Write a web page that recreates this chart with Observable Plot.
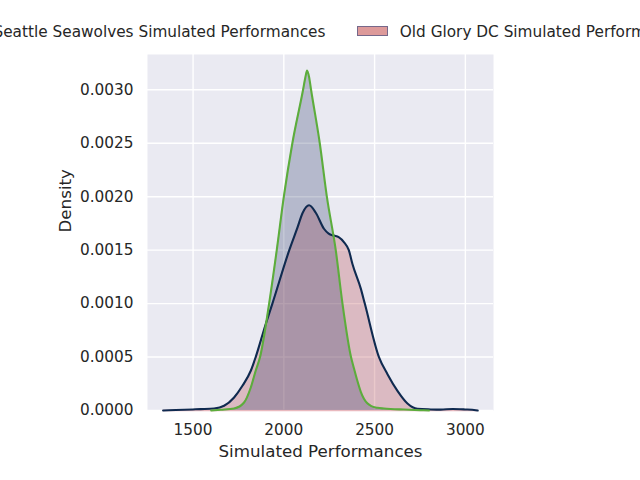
<!DOCTYPE html>
<html>
<head>
<meta charset="utf-8">
<script src="https://cdn.jsdelivr.net/npm/d3@7"></script>
<script src="https://cdn.jsdelivr.net/npm/@observablehq/plot@0.6"></script>
<style>
  body { margin: 0; background: #ffffff; font-family: "DejaVu Sans", sans-serif; }
  #wrap { width: 640px; height: 480px; overflow: hidden; position: relative; }
  #legend { position: relative; width: 640px; height: 48px; overflow: hidden; color: #262626; font-size: 15.3px; }
  #legend .txt { position: absolute; top: 22.5px; white-space: nowrap; line-height: normal; }
  #legend .patch { position: absolute; top: 25.5px; width: 30.6px; height: 10.7px; box-sizing: border-box; }
  #chart svg { display: block; }
</style>
</head>
<body>
<div id="wrap">
  <div id="legend">
    <div class="patch" style="left:-49.3px;background:#b4b8cb;border:1px solid #5cad3c;"></div>
    <div class="txt" style="left:-6.5px;">Seattle Seawolves Simulated Performances</div>
    <div class="patch" style="left:357px;background:#dd9a9a;border:1px solid #76688a;"></div>
    <div class="txt" style="left:399.8px;">Old Glory DC Simulated Performances</div>
  </div>
  <div id="chart"></div>
</div>
<script>
// Seattle Seawolves simulated performance density
const seattleX = [1600, 1653, 1726, 1781, 1818, 1845, 1869, 1919, 1961, 2000, 2047, 2106, 2118, 2128, 2139, 2150, 2198, 2237, 2286, 2323, 2370, 2387, 2405, 2424, 2442, 2460, 2479, 2516, 2552, 2662, 2750, 2800];
const seattleY = [0, 0.000007, 0.000019, 0.000075, 0.000215, 0.000372, 0.0005, 0.001, 0.0015, 0.002, 0.0025, 0.003, 0.00311, 0.00318, 0.00312, 0.003, 0.0025, 0.002, 0.0015, 0.001, 0.0005, 0.00039, 0.000278, 0.000175, 0.000107, 0.000067, 0.000044, 0.000025, 0.000019, 0.000009, 0.000003, 0];

// Old Glory DC simulated performance density
const oldGloryX = [1335, 1405, 1498, 1542, 1616, 1671, 1726, 1772, 1818, 1845, 1900, 1937, 2030, 2075, 2104, 2139, 2176, 2221, 2247, 2276, 2302, 2332, 2358, 2378, 2424, 2446, 2524, 2571, 2626, 2681, 2736, 2809, 2864, 2930, 2996, 3057, 3068];
const oldGloryY = [0, 0.000005, 0.00001, 0.000013, 0.000019, 0.000044, 0.000122, 0.000231, 0.000372, 0.0005, 0.000807, 0.001, 0.0015, 0.00171, 0.00185, 0.00192, 0.00185, 0.0017, 0.001654, 0.001636, 0.001622, 0.001573, 0.0015, 0.00137, 0.00114, 0.001, 0.0005, 0.00034, 0.000184, 0.000066, 0.000016, 0.00001, 0.000008, 0.000014, 0.00001, 0.000003, 0];

const xTicks = [1500, 2000, 2500, 3000];
const yTicks = [0, 0.0005, 0.001, 0.0015, 0.002, 0.0025, 0.003];
const xDomain = [1249, 3155];
const yDomain = [0, 0.00333];
const xLabel = "Simulated Performances";
const yLabel = "Density";

const seattle = seattleX.map((x, i) => ({x, y: seattleY[i]}));
const oldGlory = oldGloryX.map((x, i) => ({x, y: oldGloryY[i]}));

const navy = "#0f2a50";
const green = "#5cad3c";

const chart = Plot.plot({
  width: 640,
  height: 432,
  marginTop: 6,
  marginLeft: 147,
  marginRight: 147,
  marginBottom: 70,
  style: { fontFamily: "DejaVu Sans", fontSize: "15.3px", color: "#262626", background: "white", overflow: "visible" },
  x: { domain: xDomain, ticks: xTicks, tickSize: 0, tickPadding: 14, label: null, tickFormat: d => String(d) },
  y: { domain: yDomain, ticks: yTicks, tickSize: 0, tickPadding: 14, label: null, tickFormat: d => d.toFixed(4) },
  marks: [
    Plot.frame({ fill: "#eaeaf2", stroke: null }),
    Plot.gridX(xTicks, { stroke: "white", strokeOpacity: 1, strokeWidth: 1.4 }),
    Plot.gridY(yTicks, { stroke: "white", strokeOpacity: 1, strokeWidth: 1.4 }),
    Plot.areaY(oldGlory, { x: "x", y: "y", fill: "#bb4d52", fillOpacity: 0.3, curve: "monotone-x" }),
    Plot.ruleY([0], { x1: d3.min(oldGloryX), x2: d3.max(oldGloryX), stroke: "#e9b9be", strokeWidth: 1.6 }),
    Plot.areaY(seattle, { x: "x", y: "y", fill: "#16265a", fillOpacity: 0.25, curve: "monotone-x" }),
    Plot.lineY(oldGlory, { x: "x", y: "y", stroke: navy, strokeWidth: 2.1, curve: "monotone-x" }),
    Plot.lineY(seattle, { x: "x", y: "y", stroke: green, strokeWidth: 2.1, curve: "monotone-x" }),
    Plot.axisX({ ticks: xTicks, tickSize: 0, tickPadding: 14, label: null, tickFormat: d => String(d) }),
    Plot.axisY({ ticks: yTicks, tickSize: 0, tickPadding: 14, label: null, tickFormat: d => d.toFixed(4) }),
    Plot.text([xLabel], { text: d => d, frameAnchor: "bottom", lineAnchor: "top", dy: 35, fontSize: 16.7, fill: "#262626" }),
    Plot.text([yLabel], { text: d => d, frameAnchor: "left", rotate: -90, lineAnchor: "top", dx: -88, fontSize: 16.7, fill: "#262626" })
  ]
});
document.getElementById("chart").appendChild(chart);
</script>
</body>
</html>
